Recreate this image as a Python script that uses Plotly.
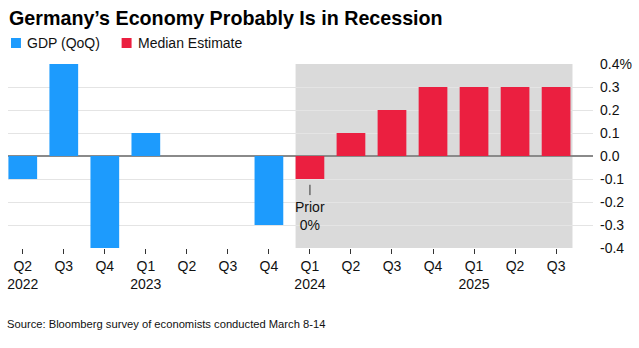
import plotly.graph_objects as go

quarters = ["Q2", "Q3", "Q4", "Q1", "Q2", "Q3", "Q4", "Q1", "Q2", "Q3", "Q4", "Q1", "Q2", "Q3"]
years = ["2022", "", "", "2023", "", "", "", "2024", "", "", "", "2025", "", ""]
cats = ["2022Q2", "2022Q3", "2022Q4", "2023Q1", "2023Q2", "2023Q3", "2023Q4",
        "2024Q1", "2024Q2", "2024Q3", "2024Q4", "2025Q1", "2025Q2", "2025Q3"]
gdp_cats = cats[:7]
gdp_vals = [-0.1, 0.4, -0.4, 0.1, 0.0, 0.0, -0.3]
est_cats = cats[7:]
est_vals = [-0.1, 0.1, 0.2, 0.3, 0.3, 0.3, 0.3]
y_ticks = [0.4, 0.3, 0.2, 0.1, 0.0, -0.1, -0.2, -0.3, -0.4]
y_labels = ["0.4%", "0.3", "0.2", "0.1", "0.0", "-0.1", "-0.2", "-0.3", "-0.4"]
tick_text = [q + "<br>" + y if y else q + "<br> " for q, y in zip(quarters, years)]

BLUE = "#1d9bfd"
RED = "#eb1f40"
FONT = "Liberation Sans, Arial, sans-serif"

fig = go.Figure()
fig.add_trace(go.Bar(x=gdp_cats, y=gdp_vals, marker_color=BLUE, marker_line_width=0, name="GDP (QoQ)"))
fig.add_trace(go.Bar(x=est_cats, y=est_vals, marker_color=RED, marker_line_width=0, name="Median Estimate"))

fig.add_shape(type="rect", xref="x", yref="y", x0=6.65, x1=13.4, y0=-0.4, y1=0.4,
              fillcolor="#dadada", line_width=0, layer="below")
fig.add_shape(type="line", xref="x", yref="y", x0=7, x1=7, y0=-0.125, y1=-0.17,
              line=dict(color="#333333", width=1))
fig.add_annotation(x=7, y=-0.262, xref="x", yref="y", text="Prior<br>0%", showarrow=False,
                   font=dict(size=14, color="#111111", family=FONT), align="center")

# title
fig.add_annotation(x=0.0, y=1, xref="paper", yref="paper", xanchor="left", yanchor="middle",
                   text="<b>Germany’s Economy Probably Is in Recession</b>", showarrow=False,
                   font=dict(size=19.7, color="#000000", family=FONT), xshift=-1, yshift=64 - 18)
# legend
for x0, col, txt in [(10, BLUE, "GDP (QoQ)"), (121, RED, "Median Estimate")]:
    fig.add_shape(type="rect", xref="paper", yref="paper",
                  x0=(x0 - 7) / 587, x1=(x0 + 10 - 7) / 587,
                  y0=1 + (64 - 48) / 184, y1=1 + (64 - 38) / 184,
                  fillcolor=col, line_width=0)
    fig.add_annotation(x=(x0 + 14 - 7) / 587, y=1 + (64 - 43) / 184, xref="paper", yref="paper",
                       xanchor="left", yanchor="middle", text=txt, showarrow=False,
                       font=dict(size=14, color="#111111", family=FONT))
fig.add_annotation(x=0, y=0, xref="paper", yref="paper", xanchor="left", yanchor="middle",
                   text="Source: Bloomberg survey of economists conducted March 8-14", showarrow=False,
                   font=dict(size=11.2, color="#111111", family=FONT), yshift=-(324 - 248), xshift=-3)

fig.update_layout(
    width=639, height=348,
    margin=dict(l=7, r=45, t=64, b=100),
    paper_bgcolor="white", plot_bgcolor="white",
    showlegend=False, bargap=0.3, barmode="overlay",
    font=dict(family=FONT, size=13, color="#111111"),
)
fig.update_xaxes(type="category", categoryorder="array", categoryarray=cats,
                 tickvals=cats, ticktext=tick_text, range=[-0.36, 13.9],
                 ticks="outside", ticklen=5, tickcolor="#333333", showgrid=False,
                 tickfont=dict(size=14, color="#111111"), showline=False, zeroline=False)
fig.update_yaxes(side="right", range=[-0.4, 0.4], tickvals=y_ticks, ticktext=y_labels,
                 showgrid=True, gridcolor="#e4e4e4", gridwidth=1,
                 zeroline=True, zerolinecolor="#8a8a8a", zerolinewidth=2,
                 ticks="", ticklabelstandoff=6, tickfont=dict(size=14, color="#111111"))

fig.write_html("out.html")
